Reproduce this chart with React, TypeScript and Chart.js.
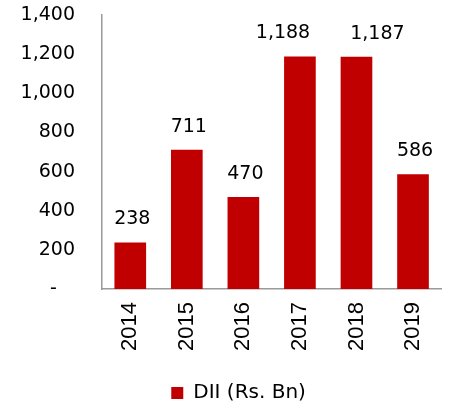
import React, { useEffect, useRef } from "react";
import { Chart, registerables } from "chart.js";

Chart.register(...registerables);

const years = ["2014", "2015", "2016", "2017", "2018", "2019"];
const dii = [238, 711, 470, 1188, 1187, 586];
const seriesLabel = "DII (Rs. Bn)";
const barColor = "#C00000";
const FONT = "'DejaVu Sans', sans-serif";

const fmt = (v: number) => v.toLocaleString("en-US");

const labelPlugin = {
  id: "barLabels",
  afterDatasetsDraw(chart: any) {
    const ctx = chart.ctx;
    const meta = chart.getDatasetMeta(0);
    ctx.save();
    ctx.fillStyle = "#000";
    ctx.font = `19px ${FONT}`;
    ctx.textAlign = "center";
    ctx.textBaseline = "middle";
    const items = meta.data.map((bar: any, i: number) => {
      const text = fmt(dii[i]);
      return { text, x: bar.x + 2, y: bar.y - 23, w: ctx.measureText(text).width };
    });
    // spread apart labels that sit at the same height and would crowd each other
    const minGap = 40;
    for (let i = 0; i < items.length - 1; i++) {
      const a = items[i];
      const b = items[i + 1];
      if (Math.abs(a.y - b.y) < 20) {
        const gap = b.x - a.x - (a.w + b.w) / 2;
        if (gap < minGap) {
          const push = (minGap - gap) / 2;
          a.x -= push;
          b.x += push;
        }
      }
    }
    items.forEach((it: any) => ctx.fillText(it.text, it.x, it.y));
    ctx.restore();
  },
};

// centre the legend under the plot rather than the whole canvas
const legendShift = {
  id: "legendShift",
  afterLayout(chart: any) {
    const lg = chart.legend;
    if (!lg) return;
    const shift = (chart.chartArea.left + chart.chartArea.right) / 2 - (lg.left + lg.right) / 2;
    const d = shift * 0.32;
    lg.left += d;
    lg.right += d;
  },
};

export default function App() {
  const ref = useRef<HTMLCanvasElement>(null);
  useEffect(() => {
    if (!ref.current) return;
    const chart = new Chart(ref.current, {
      type: "bar",
      data: {
        labels: years,
        datasets: [
          {
            label: seriesLabel,
            data: dii,
            backgroundColor: barColor,
            borderWidth: 0,
            categoryPercentage: 1,
            barPercentage: 0.56,
          },
        ],
      },
      options: {
        animation: false,
        responsive: false,
        layout: { padding: { top: 15, right: 7, left: 0, bottom: -6 } },
        plugins: {
          tooltip: { enabled: false },
          legend: {
            position: "bottom",
            labels: {
              color: "#000",
              font: { family: FONT, size: 20 },
              boxWidth: 12,
              boxHeight: 12,
              padding: 6,
            },
          },
        },
        scales: {
          x: {
            grid: { display: false, drawTicks: false },
            border: { color: "#999", width: 1.5 },
            ticks: {
              color: "#000",
              font: { family: "'Liberation Sans', Arial, sans-serif", size: 22 },
              minRotation: 90,
              maxRotation: 90,
              padding: 13,
            },
            afterFit: (s: any) => {
              s.height = 88;
            },
          },
          y: {
            min: 0,
            max: 1400,
            grid: { display: false, drawTicks: true, tickLength: 27 },
            border: { color: "#999", width: 1.5 },
            ticks: {
              stepSize: 200,
              color: "#000",
              font: { family: FONT, size: 19 },
              padding: 0,
              callback: (v: any) => (v === 0 ? "-   " : fmt(v)),
            },
            afterFit: (s: any) => {
              s.width = 102;
            },
          },
        },
      },
      plugins: [labelPlugin, legendShift],
    });
    return () => chart.destroy();
  }, []);
  return (
    <div style={{ position: "absolute", left: 0, top: 0, width: 453, height: 407 }}>
      <canvas ref={ref} width={453} height={407} />
    </div>
  );
}
